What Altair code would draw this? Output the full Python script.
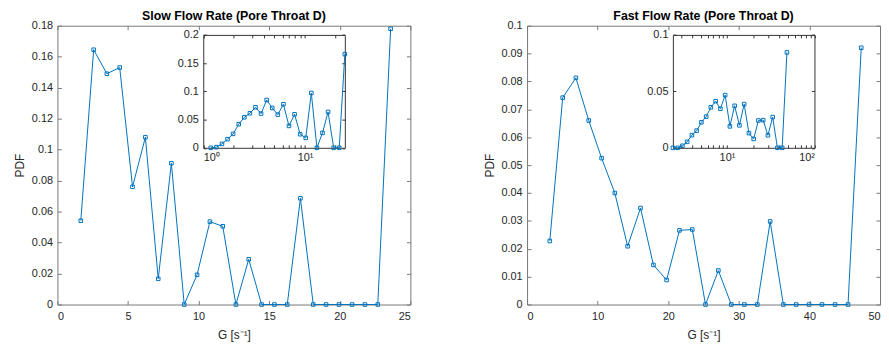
import altair as alt
import pandas as pd

# ---------------- data ----------------
slow_g = [1.656, 2.565, 3.50, 4.41, 5.32, 6.23, 7.14, 8.07, 8.98, 9.89, 10.80, 11.71,
          12.64, 13.55, 14.46, 15.37, 16.28, 17.21, 18.12, 19.03, 19.94, 20.87, 21.78,
          22.69, 23.60]
slow_pdf = [0.0541, 0.1645, 0.149, 0.153, 0.076, 0.108, 0.0166, 0.0912, 0.0, 0.0192,
            0.0535, 0.0505, 0.0, 0.0292, 0.0, 0.0, 0.0, 0.0686, 0.0, 0.0, 0.0, 0.0, 0.0,
            0.0, 0.178]

fast_g = [3.22, 5.05, 6.92, 8.74, 10.56, 12.43, 14.25, 16.07, 17.90, 19.77, 21.59, 23.41,
          25.28, 27.10, 28.93, 30.79, 32.62, 34.44, 36.31, 38.13, 39.95, 41.78, 43.64,
          45.47, 47.34]
fast_pdf = [0.0228, 0.0742, 0.0813, 0.066, 0.0525, 0.040, 0.0209, 0.0346, 0.0142, 0.0088,
            0.0266, 0.0269, 0.0, 0.0122, 0.0, 0.0, 0.0, 0.0298, 0.0, 0.0, 0.0, 0.0, 0.0,
            0.0, 0.0921]

slow_log_g = [1.186, 1.346, 1.527, 1.733, 1.966, 2.231, 2.532, 2.873, 3.261, 3.700, 4.198,
              4.764, 5.405, 6.134, 6.960, 7.898, 8.963, 10.17, 11.54, 13.10, 14.86, 16.86,
              19.13, 21.71, 24.64]
slow_log_pdf = [0.0, 0.0012, 0.007, 0.0153, 0.0247, 0.0418, 0.0541, 0.0612, 0.0718, 0.0606,
                0.0847, 0.0706, 0.0588, 0.0771, 0.0388, 0.0594, 0.0241, 0.0176, 0.0971, 0.0,
                0.0265, 0.0635, 0.0, 0.0, 0.1659]

fast_log_g = [2.410, 2.732, 3.095, 3.507, 3.974, 4.503, 5.103, 5.782, 6.552, 7.424, 8.414,
              9.535, 10.80, 12.24, 13.88, 15.72, 17.82, 20.19, 22.88, 25.93, 29.38, 33.30,
              37.73, 42.76, 48.45]
fast_log_pdf = [0.0, 0.0, 0.0018, 0.0053, 0.0112, 0.0152, 0.0226, 0.0276, 0.0359, 0.0413,
                0.0346, 0.0467, 0.0190, 0.0372, 0.0199, 0.0387, 0.0130, 0.0079, 0.0242,
                0.0245, 0.0111, 0.0272, 0.0, 0.0, 0.0845]

# tick values / labels
slow_xticks = [0, 5, 10, 15, 20, 25]
slow_yticks = [0, 0.02, 0.04, 0.06, 0.08, 0.1, 0.12, 0.14, 0.16, 0.18]
fast_xticks = [0, 10, 20, 30, 40, 50]
fast_yticks = [0, 0.01, 0.02, 0.03, 0.04, 0.05, 0.06, 0.07, 0.08, 0.09, 0.1]
slow_ins_major = [1, 10]
slow_ins_all = [1, 2, 3, 4, 5, 6, 7, 8, 9, 10, 20]
slow_ins_yticks = [0, 0.05, 0.1, 0.15, 0.2]
fast_ins_major = [10, 100]
fast_ins_all = [3, 4, 5, 6, 7, 8, 9, 10, 20, 30, 40, 50, 60, 70, 80, 90, 100]
fast_ins_yticks = [0, 0.05, 0.1]

# ---------------- styling ----------------
W, H = 357, 282
IX = [147.5, 290.7]
IY = [123.5, 9.3]
BLUE = "#0072BD"
FONT = "Liberation Sans"
TXT = "#262626"
BOX = "#777777"
IBOX = "#333333"
SUP = ("datum.value == 1 ? '10\u2070' : datum.value == 10 ? '10\u00b9' : '10\u00b2'")


def line_marks(df, xs, ys, xaxis, yaxis):
    return alt.Chart(df).mark_line(
        color=BLUE, strokeWidth=1,
        point=alt.OverlayMarkDef(shape="square", filled=False, size=13,
                                 strokeWidth=1, color=BLUE)
    ).encode(x=alt.X("g:Q", scale=xs, axis=xaxis), y=alt.Y("p:Q", scale=ys, axis=yaxis))


def ghost(df, xs, ys, xaxis, yaxis):
    return alt.Chart(df).mark_point(opacity=0).encode(
        x=alt.X("g:Q", scale=xs, axis=xaxis), y=alt.Y("p:Q", scale=ys, axis=yaxis))


def tick_axis(orient, offset, values, size, color, domain=False):
    kw = dict(orient=orient, offset=offset, values=values, labels=False, domain=domain,
              tickSize=size, tickColor=color, title=None, grid=False)
    if domain:
        kw["domainColor"] = color
    return alt.Axis(**kw)


def panel(g, p, gl, pl, title, xmax, xticks, ymax, yticks,
          idom, imajor, iall, iymax, iyticks):
    df = pd.DataFrame({"g": g, "p": p})
    di = pd.DataFrame({"g": gl, "p": pl})
    xs = alt.Scale(domain=[0, xmax], nice=False, zero=False)
    ys = alt.Scale(domain=[0, ymax], nice=False, zero=False)
    ixs = alt.Scale(type="log", domain=idom, range=IX, nice=False)
    iys = alt.Scale(domain=[0, iymax], range=IY, nice=False, zero=False)

    main = line_marks(
        df, xs, ys,
        alt.Axis(orient="bottom", values=xticks, title="G [s\u207b\u00b9]", domain=False,
                 ticks=False, labelPadding=6, titlePadding=8, grid=False),
        alt.Axis(orient="left", values=yticks, title="PDF", domain=False, ticks=False,
                 labelPadding=5, titlePadding=5, grid=False, format="~g"))
    main_t1 = ghost(df, xs, ys,
                    tick_axis("bottom", -H, xticks, 4, BOX),
                    tick_axis("left", -W, yticks, 4, BOX))
    main_t2 = ghost(df, xs, ys,
                    tick_axis("top", -H, xticks, 4, BOX),
                    tick_axis("right", -W, yticks, 4, BOX))

    ins = line_marks(
        di, ixs, iys,
        alt.Axis(orient="bottom", offset=IY[0] - H, values=imajor, labelExpr=SUP,
                 title=None, domain=True, domainColor=IBOX, ticks=False, labelPadding=4,
                 grid=False),
        alt.Axis(orient="left", offset=-IX[0], values=iyticks, title=None, domain=True,
                 domainColor=IBOX, ticks=False, labelPadding=5, grid=False, format="~g"))
    ins_t1 = ghost(di, ixs, iys,
                   tick_axis("bottom", IY[1] - H, iall, 3, IBOX, domain=True),
                   tick_axis("left", -IX[1], iyticks, 3, IBOX, domain=True))
    ins_t2 = ghost(di, ixs, iys,
                   tick_axis("top", -IY[0], iall, 3, IBOX),
                   tick_axis("right", IX[0] - W, iyticks, 3, IBOX))

    return alt.layer(main, main_t1, main_t2, ins, ins_t1, ins_t2).resolve_scale(
        x="independent", y="independent").resolve_axis(
        x="independent", y="independent").properties(
        width=W, height=H,
        title=alt.TitleParams(title, font=FONT, fontSize=12.5, fontWeight="bold",
                              color="#000000", frame="group", anchor="middle", offset=-2.5))


left = panel(slow_g, slow_pdf, slow_log_g, slow_log_pdf, "Slow Flow Rate (Pore Throat D)",
             25, slow_xticks, 0.18, slow_yticks, [1, 24.64], slow_ins_major, slow_ins_all,
             0.2, slow_ins_yticks)
right = panel(fast_g, fast_pdf, fast_log_g, fast_log_pdf, "Fast Flow Rate (Pore Throat D)",
              50, fast_xticks, 0.1, fast_yticks, [2.41, 100], fast_ins_major, fast_ins_all,
              0.1, fast_ins_yticks)

chart = alt.hconcat(left, right, spacing=72).properties(
    padding={"left": 5, "top": -1, "right": 0, "bottom": 0},
    background="white"
).configure_view(stroke=BOX, strokeWidth=1).configure_axis(
    labelFont=FONT, titleFont=FONT, labelColor=TXT, titleColor=TXT,
    labelFontSize=11, titleFontSize=12, titleFontWeight="normal"
)

chart.save("out.html", embed_options={"renderer": "svg", "actions": False})
